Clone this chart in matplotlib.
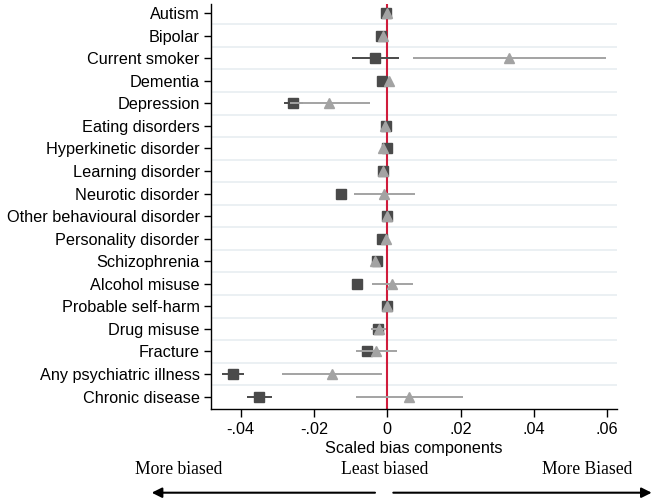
import matplotlib
matplotlib.use("Agg")
import matplotlib.pyplot as plt
import numpy as np

# bias components per measure (squares = dark series, triangles = grey series)
labels = ["Autism", "Bipolar", "Current smoker", "Dementia", "Depression",
          "Eating disorders", "Hyperkinetic disorder", "Learning disorder",
          "Neurotic disorder", "Other behavioural disorder", "Personality disorder",
          "Schizophrenia", "Alcohol misuse", "Probable self-harm", "Drug misuse",
          "Fracture", "Any psychiatric illness", "Chronic disease"]

sq_est = [-0.0003, -0.0018, -0.0034, -0.0015, -0.0256, -0.0004, 0.0000, -0.0011,
          -0.0126, 0.0000, -0.0013, -0.0029, -0.0082, -0.0002, -0.0025, -0.0056,
          -0.0422, -0.0350]
sq_lo = [-0.0006, -0.0022, -0.0095, -0.0019, -0.0281, -0.0007, -0.0003, -0.0014,
         -0.0140, -0.0003, -0.0016, -0.0033, -0.0086, -0.0005, -0.0029, -0.0066,
         -0.0452, -0.0384]
sq_hi = [0.0000, -0.0014, 0.0032, -0.0011, -0.0231, -0.0001, 0.0003, -0.0008,
         -0.0111, 0.0003, -0.0010, -0.0025, -0.0078, 0.0001, -0.0021, -0.0046,
         -0.0391, -0.0316]

tri_est = [0.0000, -0.0011, 0.0333, 0.0005, -0.0160, -0.0005, -0.0011, -0.0011,
           -0.0009, 0.0000, -0.0004, -0.0033, 0.0014, -0.0002, -0.0022, -0.0031,
           -0.0152, 0.0059]
tri_lo = [-0.0003, -0.0015, 0.0071, 0.0001, -0.0266, -0.0008, -0.0014, -0.0014,
          -0.0091, -0.0003, -0.0007, -0.0040, -0.0041, -0.0005, -0.0045, -0.0085,
          -0.0288, -0.0086]
tri_hi = [0.0003, -0.0007, 0.0596, 0.0009, -0.0047, -0.0002, -0.0008, -0.0008,
          0.0076, 0.0003, -0.0001, -0.0026, 0.0069, 0.0001, -0.0004, 0.0026,
          -0.0014, 0.0206]

xticks = [-0.04, -0.02, 0, 0.02, 0.04, 0.06]
xticklabels = ["-.04", "-.02", "0", ".02", ".04", ".06"]

plt.rcParams["font.family"] = "Liberation Sans"

fig = plt.figure(figsize=(6.55, 5), dpi=100)
ax = fig.add_axes([0.3217, 0.182, 0.6207, 0.81])

y = np.arange(len(labels))
sq_est = np.array(sq_est); tri_est = np.array(tri_est)

# grid lines between rows
for g in y[:-1] + 0.5:
    ax.axhline(g, xmin=0.006, color="#e7edf1", lw=1.2, zorder=0)

ax.axvline(0, color="#d01c3c", lw=1.5, zorder=1)

ax.errorbar(sq_est, y, xerr=[sq_est - np.array(sq_lo), np.array(sq_hi) - sq_est],
            fmt="s", color="#4a4a4a", ms=7, lw=1.4, capsize=0, zorder=2)
ax.errorbar(tri_est, y, xerr=[tri_est - np.array(tri_lo), np.array(tri_hi) - tri_est],
            fmt="^", color="#a3a3a3", ms=7.5, lw=1.4, capsize=0, zorder=3)

ax.set_ylim(17.55, -0.4)
ax.set_xlim(-0.0482, 0.0628)
ax.set_yticks(y)
ax.set_yticklabels(labels, fontsize=11.7)
ax.set_xticks(xticks)
ax.set_xticklabels(xticklabels, fontsize=11.7)
ax.tick_params(axis="x", length=6, width=1, pad=3)
ax.tick_params(axis="y", length=5, width=1, pad=3)
ax.set_xlabel("Scaled bias components", fontsize=11.7, labelpad=3)

for s in ["top", "right"]:
    ax.spines[s].set_visible(False)
for s in ["left", "bottom"]:
    ax.spines[s].set_linewidth(1)

# direction notes under the axis
fig.text(179 / 655, 1 - 469 / 500, "More biased", family="Liberation Serif",
         fontsize=12.7, ha="center", va="center")
fig.text(384.7 / 655, 1 - 469 / 500, "Least biased", family="Liberation Serif",
         fontsize=12.7, ha="center", va="center")
fig.text(587 / 655, 1 - 469 / 500, "More Biased", family="Liberation Serif",
         fontsize=12.7, ha="center", va="center")

ya = 1 - 492.7 / 500
fig.add_artist(matplotlib.patches.FancyArrowPatch(
    (375 / 655, ya), (151.7 / 655, ya), transform=fig.transFigure,
    arrowstyle="-|>,head_length=6,head_width=3", color="black", lw=1.5,
    shrinkA=0, shrinkB=0))
fig.add_artist(matplotlib.patches.FancyArrowPatch(
    (393.3 / 655, ya), (651.7 / 655, ya), transform=fig.transFigure,
    arrowstyle="-|>,head_length=6,head_width=3", color="black", lw=1.5,
    shrinkA=0, shrinkB=0))

fig.savefig("out.png", dpi=100)
